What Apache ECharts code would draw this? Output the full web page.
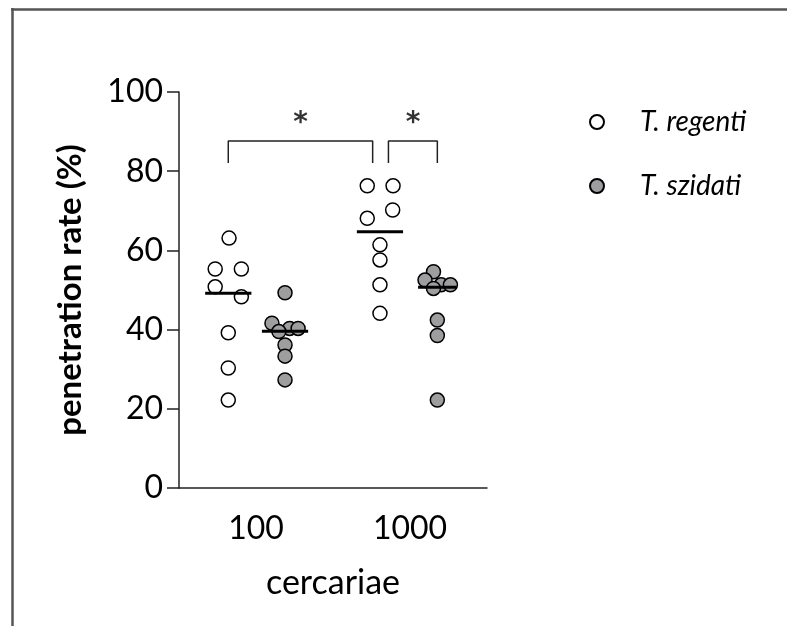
<!DOCTYPE html>
<html>
<head>
<meta charset="utf-8">
<script src="https://cdn.jsdelivr.net/npm/echarts@6/dist/echarts.min.js"></script>
<style>
html,body{margin:0;padding:0;background:#fff;}
#chart{width:787px;height:626px;}
</style>
</head>
<body>
<div id="chart"></div>
<script>
// ---- data ----
const categories = ['100', '1000'];
const seriesNames = ['T. regenti', 'T. szidati'];
const yTicks = [0, 20, 40, 60, 80, 100];

// penetration rate (%) per group
const regenti100 = [63.1, 55.3, 55.3, 50.8, 48.3, 39.2, 30.3, 22.2];
const szidati100 = [49.3, 41.6, 40.3, 40.3, 39.5, 36.1, 33.3, 27.3];
const regenti1000 = [76.3, 76.3, 70.2, 68.1, 61.4, 57.6, 51.3, 44.1];
const szidati1000 = [54.6, 52.5, 51.3, 51.3, 50.4, 42.4, 38.5, 22.2];

// horizontal scatter offsets (in x units) of each point within its group
const jitterRegenti100 = [0.01, -0.17, 0.17, -0.17, 0.17, 0, 0, 0];
const jitterSzidati100 = [0, -0.17, 0.06, 0.17, -0.08, 0, 0, 0];
const jitterRegenti1000 = [-0.165, 0.17, 0.165, -0.165, 0, 0, 0, 0];
const jitterSzidati1000 = [-0.05, -0.16, 0.05, 0.17, -0.05, 0, 0, 0];

// medians shown as horizontal bars
const medians = [49.2, 39.6, 64.7, 50.7];

// significance brackets
const bracket1X = [0.64, 2.515];
const bracket2X = [2.72, 3.355];
const bracketTop = 87.6;
const bracketBottom = 82.1;
const starLabels = ['*', '*'];
const starX = [1.58, 3.04];
const starY = 92.0;

// ---- layout ----
const groupCenters = [0.64, 1.377, 2.61, 3.355];
const medianHalf = [0.3, 0.3, 0.3, 0.25];
const FONT = 'Lato, "Open Sans", sans-serif';

function pts(center, vals, jit) {
  return vals.map((v, i) => [center + jit[i], v]);
}
const regentiData = pts(groupCenters[0], regenti100, jitterRegenti100)
  .concat(pts(groupCenters[2], regenti1000, jitterRegenti1000));
const szidatiData = pts(groupCenters[1], szidati100, jitterSzidati100)
  .concat(pts(groupCenters[3], szidati1000, jitterSzidati1000));

const medianSeries = medians.map((m, i) => ({
  type: 'line',
  xAxisIndex: 1,
  data: [[groupCenters[i] - medianHalf[i], m], [groupCenters[i] + medianHalf[i], m]],
  symbol: 'none',
  lineStyle: { color: '#000', width: 3 },
  z: 5,
  silent: true
}));

function bracket(xs) {
  return {
    type: 'line',
    xAxisIndex: 1,
    data: [[xs[0], bracketBottom], [xs[0], bracketTop], [xs[1], bracketTop], [xs[1], bracketBottom]],
    symbol: 'none',
    lineStyle: { color: '#222', width: 1.5 },
    silent: true
  };
}

const chart = echarts.init(document.getElementById('chart'));
chart.setOption({
  animation: false,
  backgroundColor: '#fff',
  grid: { left: 179, right: 300, top: 92, bottom: 138 },
  legend: {
    data: seriesNames,
    orient: 'vertical',
    left: 584,
    top: 100,
    itemWidth: 14,
    itemHeight: 14,
    itemGap: 30,
    icon: 'circle',
    textStyle: { fontFamily: FONT, fontSize: 28, fontStyle: 'italic', color: '#000', lineHeight: 34, padding: [0, 0, 0, 31] }
  },
  xAxis: [
    {
      type: 'category',
      data: categories,
      boundaryGap: true,
      axisLine: { lineStyle: { color: '#222', width: 1.5 } },
      axisTick: { alignWithLabel: true, length: 15, lineStyle: { color: '#222', width: 1.5 } },
      axisLabel: { fontFamily: FONT, fontSize: 32, color: '#000', margin: 25 },
      name: 'cercariae',
      nameLocation: 'middle',
      nameGap: 78,
      nameTextStyle: { fontFamily: FONT, fontSize: 34, color: '#000' }
    },
    { type: 'value', min: 0, max: 4, show: false }
  ],
  yAxis: {
    type: 'value',
    min: yTicks[0],
    max: yTicks[yTicks.length - 1],
    interval: 20,
    splitLine: { show: false },
    axisLine: { show: true, lineStyle: { color: '#222', width: 1.5 } },
    axisTick: { show: true, length: 12, lineStyle: { color: '#222', width: 1.5 } },
    axisLabel: { fontFamily: FONT, fontSize: 32, color: '#000', margin: 16 },
    name: 'penetration rate (%)',
    nameLocation: 'middle',
    nameGap: 92,
    nameTextStyle: { fontFamily: FONT, fontSize: 33, fontWeight: 'bold', color: '#000' }
  },
  graphic: [
    { type: 'line', shape: { x1: 11, y1: 9.5, x2: 787, y2: 9.5 }, style: { stroke: '#555', lineWidth: 2.5 } },
    { type: 'line', shape: { x1: 12.5, y1: 8, x2: 12.5, y2: 626 }, style: { stroke: '#555', lineWidth: 2.5 } }
  ],
  series: [
    {
      name: seriesNames[0],
      type: 'scatter',
      xAxisIndex: 1,
      data: regentiData,
      symbol: 'circle',
      symbolSize: 14,
      itemStyle: { color: '#fff', borderColor: '#000', borderWidth: 1.5, opacity: 1 },
      z: 3
    },
    {
      name: seriesNames[1],
      type: 'scatter',
      xAxisIndex: 1,
      data: szidatiData,
      symbol: 'circle',
      symbolSize: 14,
      itemStyle: { color: '#9e9ea0', borderColor: '#000', borderWidth: 1.5, opacity: 1 },
      z: 3
    },
    ...medianSeries,
    bracket(bracket1X),
    bracket(bracket2X),
    {
      type: 'scatter',
      xAxisIndex: 1,
      data: starX.map((x, i) => ({ value: [x, starY], label: { formatter: starLabels[i] } })),
      symbolSize: 2,
      itemStyle: { color: 'rgba(0,0,0,0)' },
      label: { show: true, position: 'inside', fontFamily: '"DejaVu Sans", sans-serif', fontSize: 28, fontWeight: 'bold', color: '#000', offset: [0, 0] },
      silent: true,
      z: 6
    }
  ]
});
</script>
</body>
</html>
